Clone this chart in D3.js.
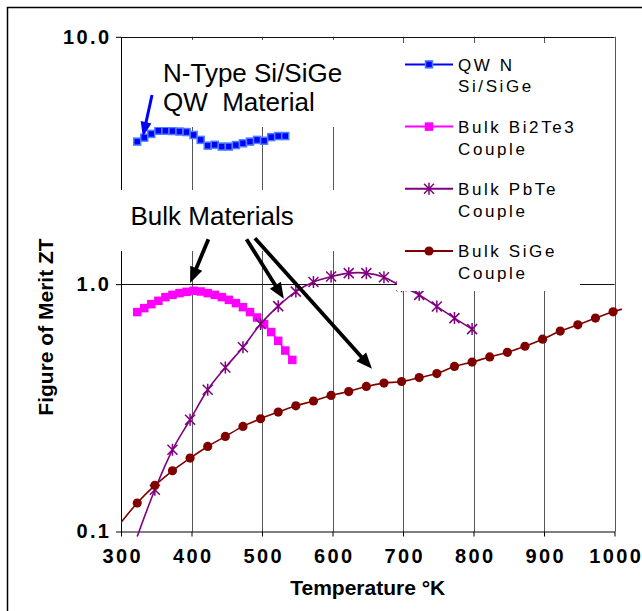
<!DOCTYPE html>
<html>
<head>
<meta charset="utf-8">
<script src="https://cdn.jsdelivr.net/npm/d3@7"></script>
<style>
  body { margin: 0; background: #fff; }
  svg { display: block; }
  text { font-family: "Liberation Sans", Arial, sans-serif; }
</style>
</head>
<body>
<svg id="chart" width="642" height="611"></svg>
<script>
// values (temperature in K, ZT)
const qwT = [323, 333, 343, 353, 363, 373, 383, 393, 403, 413, 423, 433, 443, 453, 463, 473, 483, 493, 503, 513, 523, 533];
const qwZT = [3.77, 3.91, 4.05, 4.17, 4.17, 4.16, 4.14, 4.12, 4.01, 3.83, 3.63, 3.66, 3.60, 3.60, 3.65, 3.71, 3.77, 3.83, 3.80, 3.93, 3.97, 3.97];

const biteT = [323, 333, 343, 353, 363, 373, 383, 393, 403, 413, 423, 433, 443, 453, 463, 473, 483, 493, 503, 513, 523, 533, 543];
const biteZT = [0.771, 0.800, 0.830, 0.856, 0.886, 0.905, 0.920, 0.931, 0.940, 0.934, 0.920, 0.905, 0.886, 0.864, 0.838, 0.807, 0.771, 0.733, 0.689, 0.640, 0.590, 0.539, 0.494];

const pbteT = [323, 348, 373, 398, 423, 448, 473, 498, 523, 548, 573, 598, 623, 648, 673, 698, 723, 748, 773, 798];
const pbteZT = [0.0955, 0.1475, 0.214, 0.283, 0.374, 0.460, 0.556, 0.690, 0.815, 0.933, 1.020, 1.073, 1.108, 1.108, 1.067, 0.980, 0.905, 0.812, 0.729, 0.658];

const sigeT = [298, 323, 348, 373, 398, 423, 448, 473, 498, 523, 548, 573, 598, 623, 648, 673, 698, 723, 748, 773, 798, 823, 848, 873, 898, 923, 948, 973, 998, 1023];
const sigeZT = [0.107, 0.1304, 0.1536, 0.176, 0.198, 0.2207, 0.2422, 0.266, 0.2856, 0.304, 0.3222, 0.337, 0.355, 0.368, 0.386, 0.398, 0.404, 0.419, 0.435, 0.465, 0.484, 0.508, 0.530, 0.561, 0.599, 0.646, 0.685, 0.729, 0.773, 0.810];

const xTicks = [300, 400, 500, 600, 700, 800, 900, 1000];
const yTicks = [0.1, 1, 10];

const legendLabels = [['QW N', 'Si/SiGe'], ['Bulk Bi2Te3', 'Couple'], ['Bulk PbTe', 'Couple'], ['Bulk SiGe', 'Couple']];

const series = [
  { T: qwT, ZT: qwZT, color: '#0000ff', marker: 'square', fill: '#0000ff', edge: '#4d80ff' },
  { T: biteT, ZT: biteZT, color: '#ff00ff', marker: 'square', fill: '#ff00ff', edge: '#ff00ff' },
  { T: pbteT, ZT: pbteZT, color: '#800080', marker: 'star', fill: 'none', edge: '#800080' },
  { T: sigeT, ZT: sigeZT, color: '#800000', marker: 'circle', fill: '#800000', edge: '#800000' },
];

const svg = d3.select('#chart');
const plot = { left: 121, right: 614.5, top: 36.8, bottom: 531.5 };

const x = d3.scaleLinear().domain([300, 1000]).range([plot.left, plot.right]);
const y = d3.scaleLog().domain([0.1, 10]).range([plot.bottom, plot.top]);

// outer chart frame
svg.append('rect')
  .attr('x', 7.5).attr('y', 7.5).attr('width', 700).attr('height', 700)
  .attr('fill', 'none').attr('stroke', '#000').attr('stroke-width', 1.5);

// gridlines
svg.append('g').selectAll('line').data(xTicks.slice(1)).join('line')
  .attr('x1', (d) => Math.round(x(d)) + 0.5).attr('x2', (d) => Math.round(x(d)) + 0.5)
  .attr('y1', plot.top).attr('y2', plot.bottom)
  .attr('stroke', '#555').attr('stroke-width', 1);

svg.append('g').selectAll('line').data(yTicks.slice(1)).join('line')
  .attr('x1', plot.left).attr('x2', plot.right)
  .attr('y1', (d) => Math.round(y(d)) + 0.5).attr('y2', (d) => Math.round(y(d)) + 0.5)
  .attr('stroke', '#111').attr('stroke-width', 1);

// axes
const yAxis = svg.append('g')
  .attr('transform', `translate(${plot.left},0)`)
  .call(d3.axisLeft(y).tickValues(yTicks).tickFormat(d3.format('.1f')).tickSize(5).tickSizeOuter(0).tickPadding(7));

const xAxis = svg.append('g')
  .attr('transform', `translate(0,${plot.bottom})`)
  .call(d3.axisBottom(x).tickValues(xTicks).tickFormat(d3.format('d')).tickSize(5).tickSizeOuter(0).tickPadding(12.5));

[yAxis, xAxis].forEach((ax) => {
  ax.select('.domain').attr('stroke', '#000');
  ax.selectAll('.tick line').attr('stroke', '#000');
  ax.selectAll('.tick text')
    .attr('fill', '#000')
    .style('font-family', '"Liberation Sans", Arial, sans-serif')
    .style('font-size', '20px')
    .style('font-weight', 'bold')
    .style('letter-spacing', '2.4px');
});
yAxis.selectAll('.tick text').attr('dx', '2.4');
xAxis.selectAll('.tick text').attr('dx', '1.2');

// axis titles
svg.append('text')
  .attr('x', (plot.left + plot.right) / 2).attr('y', 595)
  .attr('text-anchor', 'middle')
  .style('font-size', '21px').style('font-weight', 'bold')
  .text('Temperature °K');

svg.append('text')
  .attr('transform', 'translate(53,327) rotate(-90)')
  .attr('text-anchor', 'middle')
  .style('font-size', '21px').style('font-weight', 'bold')
  .text('Figure of Merit ZT');

// series
svg.append('clipPath').attr('id', 'lineclip')
  .append('rect').attr('x', plot.left).attr('y', 30).attr('width', 622 - plot.left).attr('height', 515);

const line = d3.line()
  .x((d) => x(d[0]))
  .y((d) => y(d[1]))
  .curve(d3.curveCatmullRom.alpha(0));

function drawMarker(g, s, px, py) {
  if (s.marker === 'square') {
    g.append('rect')
      .attr('x', px - 3.5).attr('y', py - 3.5).attr('width', 7).attr('height', 7)
      .attr('fill', s.fill).attr('stroke', s.edge).attr('stroke-width', 1.5);
  } else if (s.marker === 'circle') {
    g.append('circle').attr('cx', px).attr('cy', py).attr('r', 4.6).attr('fill', s.fill);
  } else {
    g.append('path')
      .attr('d', `M${px - 5},${py - 5}L${px + 5},${py + 5}M${px - 5},${py + 5}L${px + 5},${py - 5}M${px},${py - 6}V${py + 6}`)
      .attr('fill', 'none').attr('stroke', s.edge).attr('stroke-width', 1.5);
  }
}

series.forEach((s) => {
  const pts = s.T.map((t, i) => [t, s.ZT[i]]);
  const g = svg.append('g');
  g.append('path')
    .attr('d', line(pts))
    .attr('clip-path', 'url(#lineclip)')
    .attr('fill', 'none').attr('stroke', s.color).attr('stroke-width', 1.6);
  pts.filter((p) => p[0] >= 300 && p[0] <= 1000 && p[1] >= 0.1 && p[1] <= 10)
    .forEach((p) => drawMarker(g, s, x(p[0]), y(p[1])));
});

// legend
const legend = svg.append('g');
legend.append('rect').attr('x', 397).attr('y', 43).attr('width', 183).attr('height', 248).attr('fill', '#fff');
series.forEach((s, i) => {
  const base = 70.7 + 62.2 * i;
  const ly = base - 6.3;
  legend.append('line')
    .attr('x1', 405).attr('x2', 453).attr('y1', ly).attr('y2', ly)
    .attr('stroke', s.color).attr('stroke-width', 2);
  drawMarker(legend, s, 429, ly);
  legend.selectAll(null).data(legendLabels[i]).join('text')
    .attr('x', 458).attr('y', (d, j) => base + 21.7 * j)
    .style('font-size', '17px').style('letter-spacing', '2.6px')
    .text((d) => d);
});

// annotation boxes
svg.append('rect').attr('x', 145).attr('y', 40).attr('width', 215).attr('height', 87).attr('fill', '#fff');
svg.append('text').attr('x', 163).attr('y', 81.7).style('font-size', '26px').text('N-Type Si/SiGe');
svg.append('text').attr('x', 163).attr('y', 110.5).style('font-size', '26px').attr('xml:space', 'preserve').text('QW  Material');

svg.append('rect').attr('x', 112).attr('y', 190).attr('width', 233).attr('height', 61).attr('fill', '#fff');
svg.append('text').attr('x', 130.5).attr('y', 225).style('font-size', '26px').text('Bulk Materials');

// arrows, tail and tip given in data space
const arrows = [
  { from: [344, 5.82], to: [331, 3.94], color: '#0000ff', w: 3, len: 15, half: 5.5 },
  { from: [424, 1.52], to: [398, 1.01], color: '#000', w: 3.8, len: 16, half: 6.5 },
  { from: [478, 1.52], to: [531, 0.872], color: '#000', w: 3.8, len: 16, half: 6.5 },
  { from: [490, 1.534], to: [656, 0.455], color: '#000', w: 3.8, len: 16, half: 6.5 },
];

arrows.forEach((a) => {
  const x0 = x(a.from[0]), y0 = y(a.from[1]);
  const x1 = x(a.to[0]), y1 = y(a.to[1]);
  const dx = x1 - x0, dy = y1 - y0;
  const L = Math.hypot(dx, dy);
  const ux = dx / L, uy = dy / L;
  const bx = x1 - ux * a.len, by = y1 - uy * a.len;
  svg.append('line')
    .attr('x1', x0).attr('y1', y0).attr('x2', bx + ux * 2).attr('y2', by + uy * 2)
    .attr('stroke', a.color).attr('stroke-width', a.w);
  svg.append('path')
    .attr('d', `M${x1},${y1}L${bx - uy * a.half},${by + ux * a.half}L${bx + uy * a.half},${by - ux * a.half}Z`)
    .attr('fill', a.color);
});
</script>
</body>
</html>
